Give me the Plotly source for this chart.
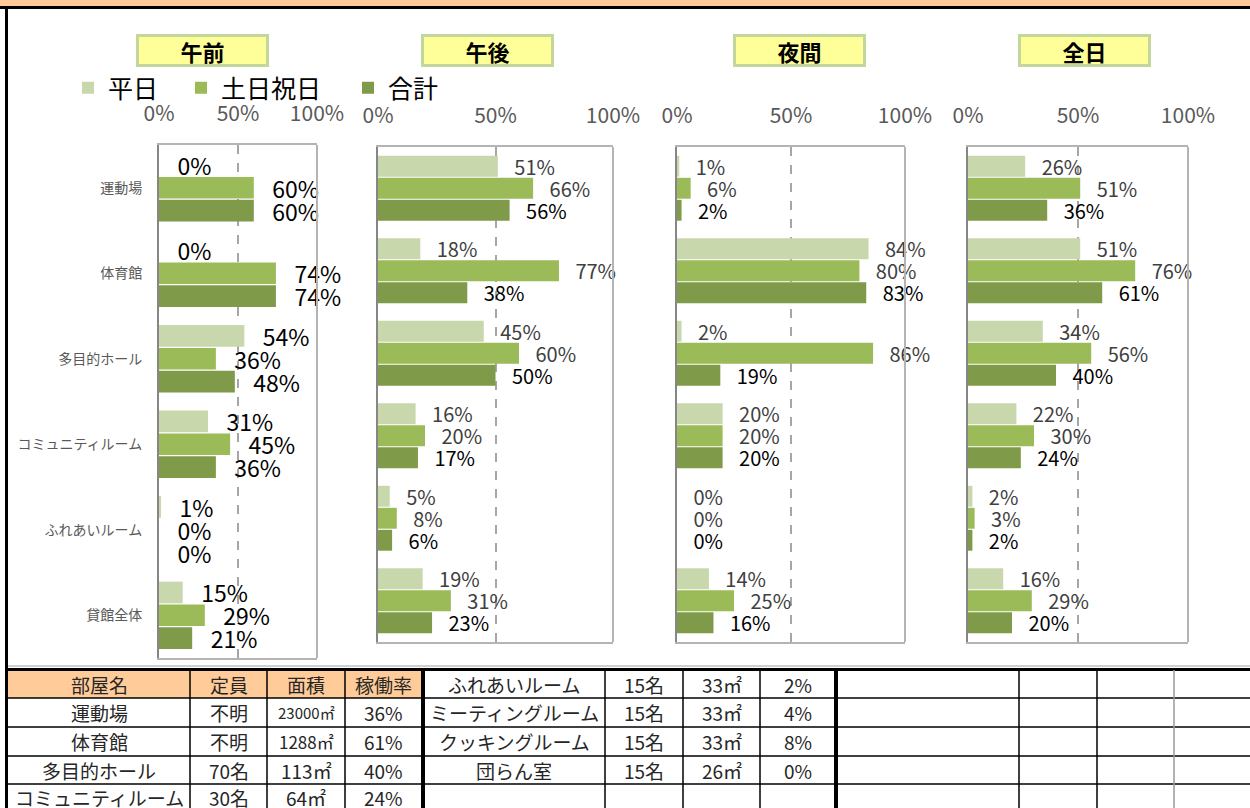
import plotly.graph_objects as go

W, H = 1250, 808
FONT = "Noto Sans CJK JP"

# ---- chart data (percent) ----
rooms = ["運動場", "体育館", "多目的ホール", "コミュニティルーム", "ふれあいルーム", "貸館全体"]
series = ["平日", "土日祝日", "合計"]
periods = ["午前", "午後", "夜間", "全日"]

am_weekday = [0, 0, 54, 31, 1, 15]
am_holiday = [60, 74, 36, 45, 0, 29]
am_total = [60, 74, 48, 36, 0, 21]

pm_weekday = [51, 18, 45, 16, 5, 19]
pm_holiday = [66, 77, 60, 20, 8, 31]
pm_total = [56, 38, 50, 17, 6, 23]

night_weekday = [1, 84, 2, 20, 0, 14]
night_holiday = [6, 80, 86, 20, 0, 25]
night_total = [2, 83, 19, 20, 0, 16]

day_weekday = [26, 51, 34, 22, 2, 16]
day_holiday = [51, 76, 56, 30, 3, 29]
day_total = [36, 61, 40, 24, 2, 20]

x_ticks = [0, 50, 100]
x_tick_labels = ["0%", "50%", "100%"]

# ---- table data ----
table_header = ["部屋名", "定員", "面積", "稼働率"]
rooms_a = ["運動場", "体育館", "多目的ホール", "コミュニティルーム"]
cap_a = ["不明", "不明", "70名", "30名"]
area_a = ["23000㎡", "1288㎡", "113㎡", "64㎡"]
rate_a = ["36%", "61%", "40%", "24%"]
rooms_b = ["ふれあいルーム", "ミーティングルーム", "クッキングルーム", "団らん室"]
cap_b = ["15名", "15名", "15名", "15名"]
area_b = ["33㎡", "33㎡", "33㎡", "26㎡"]
rate_b = ["2%", "4%", "8%", "0%"]

colors = ["#C8D7AC", "#9BBB59", "#7F9A48"]


def px(x):
    return x / W


def py(y):
    return 1 - y / H


panel_data = [
    [am_weekday, am_holiday, am_total],
    [pm_weekday, pm_holiday, pm_total],
    [night_weekday, night_holiday, night_total],
    [day_weekday, day_holiday, day_total],
]
# plot areas in pixels: (left, right, top, bottom)
panel_box = [(159, 317, 145, 658), (378, 613, 147, 642), (677, 905, 147, 642), (968, 1188, 147, 642)]
title_x = [202, 487, 799, 1084]
legend_names = ["legend", "legend2", "legend3"]
legend_x = [68, 181, 348]

fig = go.Figure()
shapes = []

for p, data in enumerate(panel_data):
    ax = "" if p == 0 else str(p + 1)
    for s, vals in enumerate(data):
        if p == 0:
            lbl_color, lbl_size = "black", 23
        else:
            lbl_color = "black" if s == 2 else "#404040"
            lbl_size = 20
        fig.add_trace(go.Bar(
            y=rooms, x=vals, orientation="h", name=series[s],
            marker=dict(color=colors[s], line=dict(width=0)),
            legend=legend_names[s], showlegend=(p == 0),
            text=[f"{v}%" for v in vals],
            texttemplate="\u00a0\u00a0\u00a0%{text}",
            textposition="outside", cliponaxis=False, constraintext="none",
            textfont=dict(family=FONT, size=lbl_size, color=lbl_color),
            xaxis="x" + ax, yaxis="y" + ax, hoverinfo="skip",
        ))

    l, r, t, b = panel_box[p]
    fig.layout["xaxis" + ax] = dict(
        domain=[px(l), px(r)], anchor="y" + ax, side="top", range=[0, 100],
        tickmode="array", tickvals=x_ticks, ticktext=x_tick_labels,
        showgrid=True, gridcolor="#A6A6A6",
        griddash="dash", gridwidth=1.5, zeroline=False, showline=True, mirror=True,
        linecolor="#B4B4B4", linewidth=2, ticks="", ticklabelstandoff=14,
        tickfont=dict(family=FONT, size=21, color="#595959"), fixedrange=True,
    )
    fig.layout["yaxis" + ax] = dict(
        domain=[py(b), py(t)], anchor="x" + ax, type="category",
        categoryorder="array", categoryarray=rooms, autorange="reversed",
        showgrid=False, showline=True, mirror=False, linecolor="#868686",
        linewidth=2, layer="below traces", ticks="", showticklabels=(p == 0),
        ticklabelstandoff=12,
        tickfont=dict(family=FONT, size=14, color="#595959"), fixedrange=True,
    )
    # right edge of the plot-area frame
    shapes.append(dict(type="line", xref=f"x{ax} domain", yref=f"y{ax} domain",
                       x0=1, x1=1, y0=0, y1=1, line=dict(color="#B4B4B4", width=2)))

annotations = []
for p, name in enumerate(periods):
    annotations.append(dict(
        text=f"<b>{name}</b>", x=px(title_x[p]), y=py(50), xref="paper", yref="paper",
        xanchor="center", yanchor="middle", showarrow=False, width=127, height=27,
        bgcolor="#FFFF99", bordercolor="#C3D69B", borderwidth=3, borderpad=0,
        font=dict(family=FONT, size=22, color="black"),
    ))


def rect(x0, y0, x1, y1, color):
    shapes.append(dict(type="rect", xref="paper", yref="paper", x0=px(x0), x1=px(x1),
                       y0=py(y1), y1=py(y0), fillcolor=color, line=dict(width=0), layer="above"))


def line(x0, y0, x1, y1, color, width):
    shapes.append(dict(type="line", xref="paper", yref="paper", x0=px(x0), x1=px(x1),
                       y0=py(y0), y1=py(y1), line=dict(color=color, width=width), layer="above"))


# outer frame of the sheet
rect(0, 0, W, 6, "#FFCC99")
rect(0, 6, W, 9, "black")
rect(5, 6, 8, H, "black")

# table grid
col_edges = [8, 190, 267, 345, 423, 605, 683, 760, 836, 1019, 1097, 1174, W]
row_edges = [670, 698, 727, 756, 784, 813]
rect(8, 670, 421, 698, "#FFCC99")
line(8, 666, W, 666, "#A0A0A0", 1)
rect(8, 668, W, 671, "black")
for y in row_edges[1:-1]:
    line(8, y, W, y, "black", 1.5)
for x in col_edges[1:-1]:
    if x in (423, 836):
        rect(x - 2, 670, x + 2, H, "black")
    else:
        line(x, 670, x, H, "#9A9A9A" if x == 1174 else "black", 1.5)

col_c = [(col_edges[i] + col_edges[i + 1]) / 2 for i in range(8)]
row_c = [684, 712.5, 741.5, 770, 797]


def cell(text, ci, ri, size=19):
    annotations.append(dict(text=text, x=px(col_c[ci]), y=py(row_c[ri]), xref="paper",
                            yref="paper", xanchor="center", yanchor="middle", showarrow=False,
                            font=dict(family=FONT, size=size, color="#262626")))


for ci, h in enumerate(table_header):
    cell(h, ci, 0)
area_sizes = [15, 17, 19, 19]
for i in range(4):
    cell(rooms_a[i], 0, i + 1)
    cell(cap_a[i], 1, i + 1)
    cell(area_a[i], 2, i + 1, area_sizes[i])
    cell(rate_a[i], 3, i + 1)
    cell(rooms_b[i], 4, i)
    cell(cap_b[i], 5, i)
    cell(area_b[i], 6, i)
    cell(rate_b[i], 7, i)

legend_style = dict(orientation="h", y=py(88), xanchor="left", yanchor="middle",
                    font=dict(family=FONT, size=25, color="black"),
                    bgcolor="rgba(0,0,0,0)", itemclick=False, itemdoubleclick=False)

fig.update_layout(
    width=W, height=H, margin=dict(l=0, r=0, t=0, b=0, autoexpand=False),
    paper_bgcolor="white", plot_bgcolor="white",
    barmode="group", bargap=0.2, bargroupgap=0.05,
    font=dict(family=FONT),
    legend=dict(x=px(legend_x[0]), **legend_style),
    legend2=dict(x=px(legend_x[1]), **legend_style),
    legend3=dict(x=px(legend_x[2]), **legend_style),
    annotations=annotations, shapes=shapes,
)

fig.write_html("out.html", config={"displayModeBar": False},
               post_script="document.body.style.margin='0';document.body.style.overflow='hidden';")
